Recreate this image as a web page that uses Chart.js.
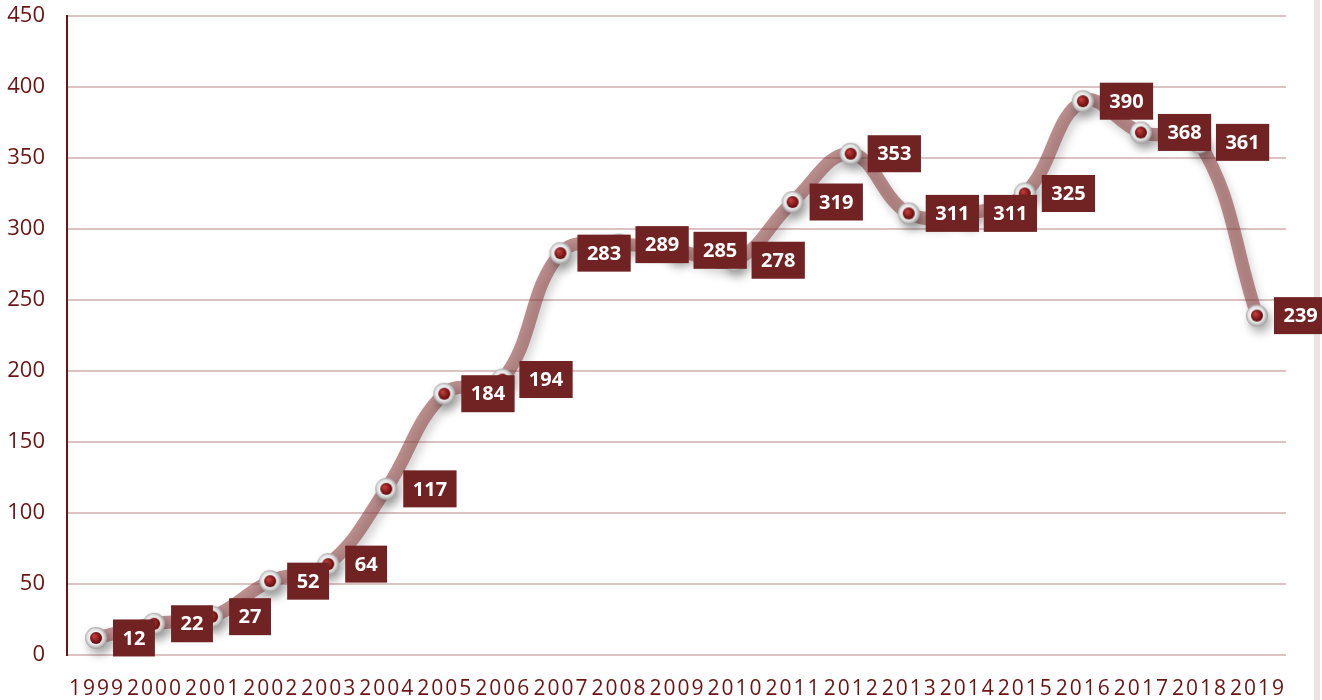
<!DOCTYPE html>
<html>
<head>
<meta charset="utf-8">
<script src="https://cdn.jsdelivr.net/npm/chart.js@4"></script>
<style>
  html, body { margin: 0; padding: 0; background: #ffffff; }
  #wrap {
    width: 1322px; height: 700px; position: relative;
    background: linear-gradient(to right, #ffffff 1314px, #ece4e4 1314px, #ece4e4 1320px, #ffffff 1320px);
  }
</style>
</head>
<body>
<div id="wrap"><canvas id="chart"></canvas></div>
<script>
"use strict"
const years = ["1999", "2000", "2001", "2002", "2003", "2004", "2005", "2006", "2007", "2008",
    "2009", "2010", "2011", "2012", "2013", "2014", "2015", "2016", "2017", "2018", "2019"];
const counts = [12, 22, 27, 52, 64, 117, 184, 194, 283, 289,
    285, 278, 319, 353, 311, 311, 325, 390, 368, 361, 239];
const yTicks = [0, 50, 100, 150, 200, 250, 300, 350, 400, 450];

const darkRed = "#6b1414";

// marker: silver ring with a dark red bead
function makeMarker() {
    const c = document.createElement("canvas");
    c.width = 24;
    c.height = 24;
    const g = c.getContext("2d");
    const ring = g.createRadialGradient(10, 10, 2, 12, 12, 12);
    ring.addColorStop(0, "#ffffff");
    ring.addColorStop(0.6, "#e4e4e4");
    ring.addColorStop(1, "#8a8a8a");
    g.fillStyle = ring;
    g.beginPath();
    g.arc(12, 12, 11, 0, Math.PI * 2);
    g.fill();
    const bead = g.createRadialGradient(10, 10, 1, 12, 12, 6.5);
    bead.addColorStop(0, "#c23a3a");
    bead.addColorStop(1, "#560606");
    g.fillStyle = bead;
    g.beginPath();
    g.arc(12, 12, 6, 0, Math.PI * 2);
    g.fill();
    return c;
}

const lineShadow = {
    id: "lineShadow",
    beforeDatasetDraw(chart) {
        const ctx = chart.ctx;
        ctx.save();
        ctx.shadowColor = "rgba(0,0,0,0.3)";
        ctx.shadowBlur = 10;
        ctx.shadowOffsetX = 3;
        ctx.shadowOffsetY = 6;
    },
    afterDatasetDraw(chart) {
        chart.ctx.restore();
    }
};

// boxed value labels to the right of each point
const valueBoxes = {
    id: "valueBoxes",
    afterDatasetsDraw(chart) {
        const ctx = chart.ctx;
        const meta = chart.getDatasetMeta(0);
        ctx.save();
        ctx.font = "bold 20px 'Open Sans'";
        ctx.textBaseline = "middle";
        ctx.textAlign = "center";
        meta.data.forEach((pt, i) => {
            const txt = String(counts[i]);
            const w = ctx.measureText(txt).width + 19;
            const h = 37;
            const left = pt.x + 17;
            const top = pt.y - h / 2;
            ctx.fillStyle = "#712222";
            ctx.fillRect(left, top, w, h);
            ctx.fillStyle = "#ffffff";
            ctx.fillText(txt, left + w / 2, pt.y + 1);
        });
        ctx.restore();
    }
};

new Chart(document.getElementById("chart"), {
    type: "line",
    plugins: [lineShadow, valueBoxes],
    data: {
        labels: years,
        datasets: [{
            data: counts,
            borderColor: "rgba(140, 62, 62, 0.58)",
            borderWidth: 13,
            tension: 0.4,
            fill: false,
            clip: false,
            pointStyle: makeMarker(),
            pointRadius: 12,
            pointHoverRadius: 12
        }]
    },
    options: {
        responsive: true,
        maintainAspectRatio: false,
        animation: false,
        layout: {
            autoPadding: false,
            padding: { top: 16, right: 36, left: 0, bottom: 0 }
        },
        plugins: {
            legend: { display: false },
            tooltip: { enabled: false }
        },
        scales: {
            x: {
                offset: true,
                grid: { display: false },
                border: { display: false },
                ticks: {
                    color: darkRed,
                    font: { family: "'Open Sans'", size: 21 },
                    padding: 13,
                    maxRotation: 0,
                    autoSkip: false
                },
                afterFit(scale) {
                    scale.height = 45;
                    scale.paddingLeft = 0;
                    scale.paddingRight = 0;
                    // spaced-out year labels
                    if (!scale._spaced) {
                        const orig = scale.drawLabels;
                        scale.drawLabels = function (area) {
                            this.ctx.save();
                            this.ctx.letterSpacing = "2px";
                            this.ctx.translate(1, 0);
                            orig.call(this, area);
                            this.ctx.restore();
                        };
                        scale._spaced = true;
                    }
                }
            },
            y: {
                min: 0,
                max: 450,
                afterBuildTicks(scale) {
                    scale.ticks = yTicks.map(v => ({ value: v }));
                },
                grid: {
                    color: "#dcc3c3",
                    lineWidth: 2,
                    drawTicks: false
                },
                border: { display: true, color: darkRed, width: 2 },
                ticks: {
                    color: darkRed,
                    font: { family: "'Open Sans'", size: 22 },
                    padding: 22
                },
                afterFit(scale) {
                    scale.width = 67;
                    scale.paddingTop = 0;
                    scale.paddingBottom = 0;
                }
            }
        }
    }
});
</script>
</body>
</html>
